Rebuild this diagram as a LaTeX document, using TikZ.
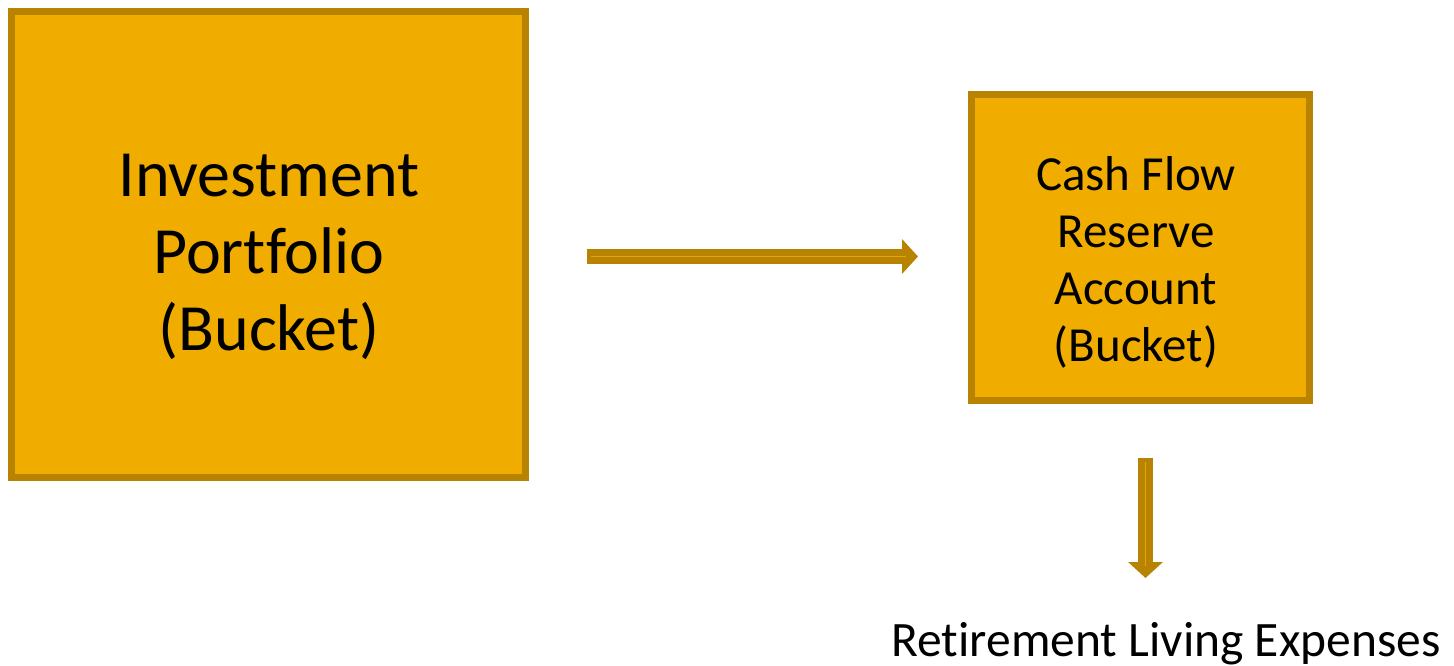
\documentclass[tikz,border=0pt]{standalone}
\usepackage{fontspec}
\setmainfont{Carlito}[Ligatures={NoCommon,NoDiscretionary}]
\usetikzlibrary{arrows.meta,calc}
\definecolor{gold}{HTML}{F0AD00}
\definecolor{darkgold}{HTML}{B78300}
\definecolor{midgold}{HTML}{E6A500}
\tikzset{
  bucket/.style={draw=darkgold, fill=gold, line width=5pt, inner sep=0pt},
  rim/.style={draw=darkgold, line width=2pt},
  flow/.style={draw=darkgold, line width=15pt,
    -{Triangle[width=34pt,length=16pt]}},
  flowcore/.style={draw=midgold, line width=1.2pt},
  bigtext/.style={align=center, font=\fontsize{66}{77}\selectfont},
  midtext/.style={align=center, font=\fontsize{49}{57}\selectfont},
}
\begin{document}
\begin{tikzpicture}[x=1pt,y=-1pt]
\useasboundingbox (0,0) rectangle (1454,666);

% the two buckets, each with a thin inner rim
\node[bucket, minimum width=516pt, minimum height=468pt] (inv) at (268.5,244.5) {};
\draw[rim] ($(inv.north west)+(6,6)$) rectangle ($(inv.south east)+(-6,-6)$);
\node[bigtext] (invtext) at (269,257) {Investment\\Portfolio\\(Bucket)};

\node[bucket, minimum width=340pt, minimum height=308pt] (cash) at (1140.5,247.5) {};
\draw[rim] ($(cash.north west)+(6,6)$) rectangle ($(cash.south east)+(-6,-6)$);
\node[midtext] (cashtext) at (1136,262) {Cash Flow\\Reserve\\Account\\(Bucket)};

% destination text
\node[font=\fontsize{49.5}{58}\selectfont, anchor=base] (exp) at (1166,656) {Retirement Living Expenses};

% flows between the buckets
\coordinate (h1) at (587,256.5);
\coordinate (h2) at (918,256.5);
\coordinate (v1) at (1145.5,458);
\coordinate (v2) at (1145.5,578);
\draw[flow] (h1) -- (h2);
\draw[flowcore] ($(h1)+(4,0)$) -- ($(h2)+(-12,0)$);
\draw[flow] (v1) -- (v2);
\draw[flowcore] ($(v1)+(0,4)$) -- ($(v2)+(0,-12)$);
\end{tikzpicture}
\end{document}
